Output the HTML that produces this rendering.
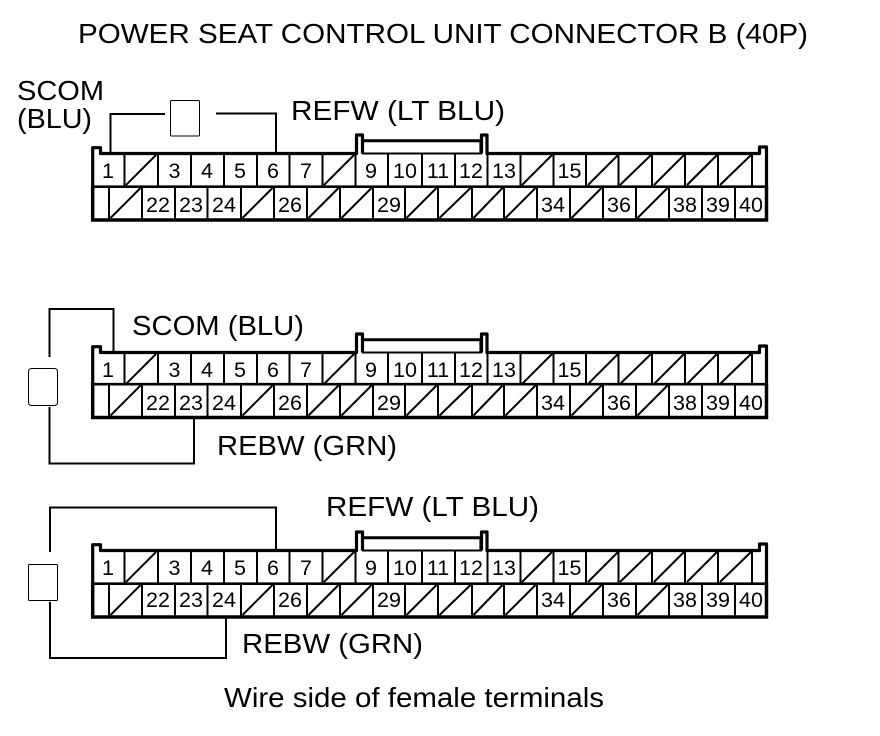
<!DOCTYPE html>
<html>
<head>
<meta charset="utf-8">
<style>
html,body{margin:0;padding:0;background:#fff;}
svg{display:block;}
text{font-family:"Liberation Sans",sans-serif;fill:#000;}
.n{font-size:21.5px;text-anchor:middle;}
.l{font-size:28px;}
</style>
</head>
<body>
<svg width="880" height="736" viewBox="0 0 880 736" xmlns="http://www.w3.org/2000/svg">
<defs>
<g id="upper" fill="none" stroke="#000">
  <path stroke-width="3.2" stroke-linejoin="round" d="M92.7 187V147.7H100.5V153.5H356.5V135H362.5V153.5M481.5 153.5V135H487V153.5H759.5V147H766.5V187"/>
  <path stroke-width="2" d="M362 153.5H482"/>
  <path stroke-width="1.2" d="M363 142V153M480 142V153"/>
  <path stroke-width="3" d="M362 140.7H481"/>
  <path stroke-width="2" d="M124.5 154V186M158 154V186M191 154V186M224 154V186M257 154V186M289.5 154V186M322.5 154V186M355.5 154V186M388 154V186M422 154V186M455 154V186M487.5 154V186M520.5 154V186M553.5 154V186M586 154V186M618.5 154V186M652 154V186M685 154V186M718 154V186M752 154V186"/>
  <path stroke-width="2" d="M126 185L156 155M324 185L354 155M522 185L552 155M588 185L618 155M620 185L651 155M654 185L684 155M687 185L717 155M720 185L751 155"/>
</g>
<g id="lower" fill="none" stroke="#000">
  <path stroke-width="2.6" d="M91 186.7H768"/>
  <path stroke-width="3.5" d="M92.7 186V220H766.5V186"/>
  <path stroke-width="2" d="M109 187V219M142 187V219M175 187V219M207.5 187V219M241 187V219M274 187V219M307 187V219M340 187V219M373 187V219M405 187V219M438 187V219M472 187V219M504 187V219M537 187V219M570 187V219M603 187V219M636 187V219M669 187V219M702 187V219M735 187V219"/>
  <path stroke-width="2" d="M110.5 218L140.5 188M242.5 218L272.5 188M308.5 218L338.5 188M341.5 218L371.5 188M406.5 218L436.5 188M439.5 218L470.5 188M473.5 218L502.5 188M505.5 218L535.5 188M571.5 218L601.5 188M637.5 218L667.5 188"/>
</g>
</defs>

<text class="l" x="78" y="43" textLength="730" lengthAdjust="spacingAndGlyphs">POWER SEAT CONTROL UNIT CONNECTOR B (40P)</text>

<!-- Connector 1 -->
<use href="#upper"/>
<use href="#lower"/>
<g fill="none" stroke="#000" stroke-width="2">
  <path d="M110.5 153V114H165"/>
  <path d="M216 113.5H276V153"/>
  <rect x="170.5" y="100.5" width="29" height="35.5" rx="1" stroke-width="1"/>
</g>
<text class="l" x="17" y="100" textLength="87" lengthAdjust="spacingAndGlyphs">SCOM</text>
<text class="l" x="17" y="128" textLength="75" lengthAdjust="spacingAndGlyphs">(BLU)</text>
<text class="l" x="291" y="120" textLength="214" lengthAdjust="spacingAndGlyphs">REFW (LT BLU)</text>
<g>
  <text class="n" x="108" y="178">1</text>
  <text class="n" x="174.5" y="178">3</text>
  <text class="n" x="207" y="178">4</text>
  <text class="n" x="240" y="178">5</text>
  <text class="n" x="273" y="178">6</text>
  <text class="n" x="306" y="178">7</text>
  <text class="n" x="371" y="178">9</text>
  <text class="n" x="405" y="178">10</text>
  <text class="n" x="438" y="178">11</text>
  <text class="n" x="471" y="178">12</text>
  <text class="n" x="504" y="178">13</text>
  <text class="n" x="569.5" y="178">15</text>
  <text class="n" x="158" y="212">22</text>
  <text class="n" x="191" y="212">23</text>
  <text class="n" x="224" y="212">24</text>
  <text class="n" x="290" y="212">26</text>
  <text class="n" x="389" y="212">29</text>
  <text class="n" x="553" y="212">34</text>
  <text class="n" x="619" y="212">36</text>
  <text class="n" x="685" y="212">38</text>
  <text class="n" x="718" y="212">39</text>
  <text class="n" x="751" y="212">40</text>
</g>

<!-- Connector 2 -->
<use href="#upper" y="199"/>
<use href="#lower" y="197.5"/>
<g fill="none" stroke="#000" stroke-width="2">
  <path d="M49.5 357V309H113.5V352"/>
  <path d="M49.5 407V463.5H194V417"/>
  <rect x="28.5" y="368.5" width="29" height="37" rx="3" stroke-width="1"/>
</g>
<text class="l" x="132" y="335" textLength="172" lengthAdjust="spacingAndGlyphs">SCOM (BLU)</text>
<text class="l" x="217" y="455" textLength="180" lengthAdjust="spacingAndGlyphs">REBW (GRN)</text>
<g>
  <text class="n" x="108" y="377">1</text>
  <text class="n" x="174.5" y="377">3</text>
  <text class="n" x="207" y="377">4</text>
  <text class="n" x="240" y="377">5</text>
  <text class="n" x="273" y="377">6</text>
  <text class="n" x="306" y="377">7</text>
  <text class="n" x="371" y="377">9</text>
  <text class="n" x="405" y="377">10</text>
  <text class="n" x="438" y="377">11</text>
  <text class="n" x="471" y="377">12</text>
  <text class="n" x="504" y="377">13</text>
  <text class="n" x="569.5" y="377">15</text>
  <text class="n" x="158" y="410">22</text>
  <text class="n" x="191" y="410">23</text>
  <text class="n" x="224" y="410">24</text>
  <text class="n" x="290" y="410">26</text>
  <text class="n" x="389" y="410">29</text>
  <text class="n" x="553" y="410">34</text>
  <text class="n" x="619" y="410">36</text>
  <text class="n" x="685" y="410">38</text>
  <text class="n" x="718" y="410">39</text>
  <text class="n" x="751" y="410">40</text>
</g>

<!-- Connector 3 -->
<use href="#upper" y="397"/>
<use href="#lower" y="397"/>
<g fill="none" stroke="#000" stroke-width="2">
  <path d="M50 552V507.5H276V549"/>
  <path d="M50 602V658H226V617"/>
  <rect x="28.5" y="564.5" width="29" height="36" rx="1" stroke-width="1"/>
</g>
<text class="l" x="326" y="516" textLength="213" lengthAdjust="spacingAndGlyphs">REFW (LT BLU)</text>
<text class="l" x="242" y="653" textLength="181" lengthAdjust="spacingAndGlyphs">REBW (GRN)</text>
<g>
  <text class="n" x="108" y="575">1</text>
  <text class="n" x="174.5" y="575">3</text>
  <text class="n" x="207" y="575">4</text>
  <text class="n" x="240" y="575">5</text>
  <text class="n" x="273" y="575">6</text>
  <text class="n" x="306" y="575">7</text>
  <text class="n" x="371" y="575">9</text>
  <text class="n" x="405" y="575">10</text>
  <text class="n" x="438" y="575">11</text>
  <text class="n" x="471" y="575">12</text>
  <text class="n" x="504" y="575">13</text>
  <text class="n" x="569.5" y="575">15</text>
  <text class="n" x="158" y="607">22</text>
  <text class="n" x="191" y="607">23</text>
  <text class="n" x="224" y="607">24</text>
  <text class="n" x="290" y="607">26</text>
  <text class="n" x="389" y="607">29</text>
  <text class="n" x="553" y="607">34</text>
  <text class="n" x="619" y="607">36</text>
  <text class="n" x="685" y="607">38</text>
  <text class="n" x="718" y="607">39</text>
  <text class="n" x="751" y="607">40</text>
</g>

<text class="l" x="224" y="707" textLength="380" lengthAdjust="spacingAndGlyphs">Wire side of female terminals</text>
</svg>
</body>
</html>
